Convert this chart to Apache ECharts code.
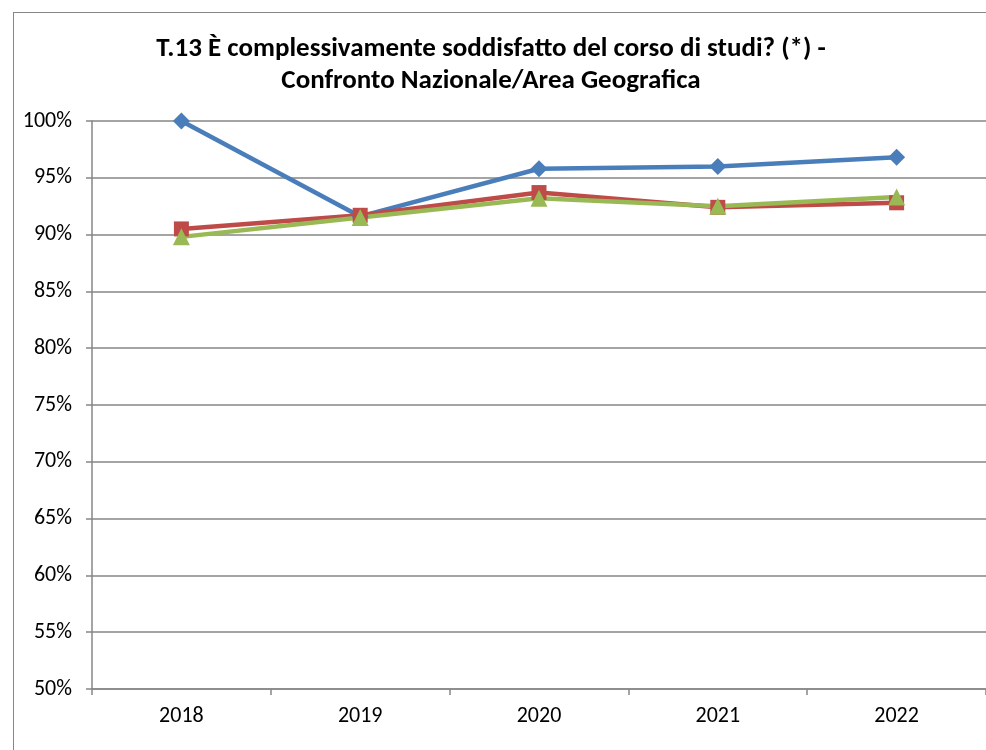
<!DOCTYPE html>
<html>
<head>
<meta charset="utf-8">
<script src="https://cdn.jsdelivr.net/npm/echarts@6/dist/echarts.min.js"></script>
<style>
    html, body { margin: 0; padding: 0; background: #fff; overflow: hidden; }
    #frame { position: absolute; left: 13px; top: 12px; width: 2000px; height: 2000px; border: 1.5px solid #868686; }
    #chart { position: absolute; left: 0; top: 0; width: 986px; height: 750px; }
</style>
</head>
<body>
<div id="frame"></div>
<div id="chart"></div>
<script>
// dati
var years = ['2018', '2019', '2020', '2021', '2022'];
var corso = [100, 91.6, 95.8, 96.0, 96.8];
var area = [90.5, 91.7, 93.7, 92.4, 92.8];
var nazionale = [89.8, 91.5, 93.2, 92.5, 93.3];

var font = 'Carlito, Calibri, "Liberation Sans", sans-serif';
var gray = '#868686';

var chart = echarts.init(document.getElementById('chart'));

var option = {
    animation: false,
    textStyle: { fontFamily: font },
    title: {
        text: 'T.13 È complessivamente soddisfatto del corso di studi? (*) -\nConfronto Nazionale/Area Geografica',
        left: 486,
        top: 28,
        textAlign: 'center',
        textStyle: { fontFamily: font, fontSize: 27, fontWeight: 'bold', color: '#000', lineHeight: 32 }
    },
    grid: { left: 92, right: 0, top: 121, bottom: 61 },
    xAxis: {
        type: 'category',
        data: years,
        boundaryGap: true,
        axisLine: { lineStyle: { color: gray, width: 1.5 } },
        axisTick: { show: true, length: 6, lineStyle: { color: gray, width: 1.5 } },
        axisLabel: { color: '#000', fontSize: 22, margin: 16, fontFamily: font }
    },
    yAxis: {
        type: 'value',
        min: 50,
        max: 100,
        interval: 5,
        axisLine: { show: true, lineStyle: { color: gray, width: 1.5 } },
        axisTick: { show: true, length: 6, lineStyle: { color: gray, width: 1.5 } },
        splitLine: { lineStyle: { color: gray, width: 1.5 } },
        axisLabel: { color: '#000', fontSize: 22, margin: 20, fontFamily: font, formatter: '{value}%' }
    },
    series: [
        {
            name: 'Corso di Studi',
            type: 'line',
            data: corso,
            symbol: 'diamond',
            symbolSize: 17,
            lineStyle: { color: '#4A7EBB', width: 4.5 },
            itemStyle: { color: '#4A7EBB' }
        },
        {
            name: 'Area Geografica',
            type: 'line',
            data: area,
            symbol: 'rect',
            symbolSize: 15,
            lineStyle: { color: '#BE4B48', width: 4.5 },
            itemStyle: { color: '#BE4B48' }
        },
        {
            name: 'Nazionale',
            type: 'line',
            data: nazionale,
            symbol: 'triangle',
            symbolSize: 17,
            lineStyle: { color: '#98B954', width: 4.5 },
            itemStyle: { color: '#98B954' }
        }
    ]
};

chart.setOption(option);
</script>
</body>
</html>
